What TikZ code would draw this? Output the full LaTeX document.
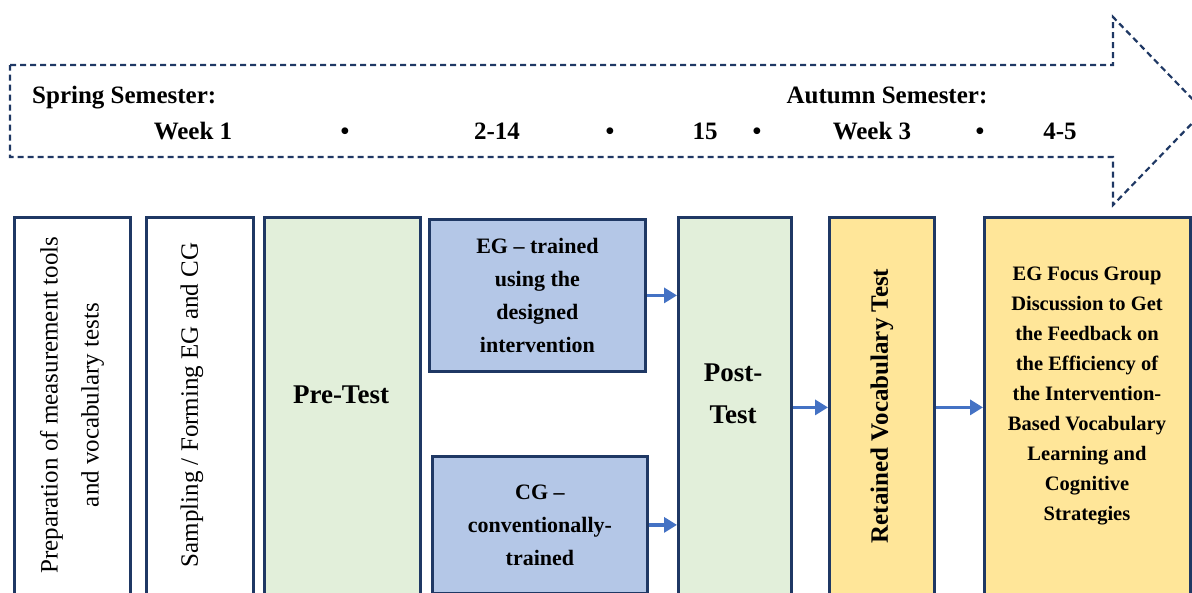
\documentclass[tikz,border=0pt]{standalone}
\usepackage{fontspec}
\setmainfont{Liberation Serif}
\usetikzlibrary{arrows.meta}
\definecolor{navy}{HTML}{1F3864}
\definecolor{gfill}{HTML}{E2EFDA}
\definecolor{bfill}{HTML}{B4C7E7}
\definecolor{yfill}{HTML}{FFE699}
\definecolor{arrowblue}{HTML}{4472C4}
\begin{document}
\begin{tikzpicture}[x=1pt,y=-1pt,
  box/.style={draw=navy, line width=2.8pt, anchor=north west, inner sep=0pt},
  flow/.style={draw=arrowblue, line width=3.4pt, -{Triangle[length=13pt,width=15pt]}},
  tl/.style={font=\fontsize{25}{28}\selectfont\bfseries, anchor=base, inner sep=0pt},
  rottext/.style={rotate=90, align=center, inner sep=0pt, font=\fontsize{25}{41}\selectfont},
  bigtext/.style={align=center, inner sep=0pt, font=\fontsize{27}{42}\selectfont\bfseries},
  midtext/.style={align=center, inner sep=0pt, font=\fontsize{22}{33}\selectfont\bfseries},
  smalltext/.style={align=center, inner sep=0pt, font=\fontsize{20.5}{30}\selectfont\bfseries},
  timeline/.style={draw=navy, line width=2.2pt, dash pattern=on 6pt off 4pt}]
\useasboundingbox (0,0) rectangle (1192,592);
\clip (0,0) rectangle (1192,592);
% timeline arrow
\draw[timeline] (10,65) -- (1113,65) -- (1113,17) -- (1204,111) -- (1113,205) -- (1113,157) -- (10,157) -- cycle;
\node[tl, anchor=base west] (spring) at (32,103) {Spring Semester:};
\node[tl] (autumn) at (887,103) {Autumn Semester:};
\node[tl] (w1) at (193,139) {Week 1};
\node[tl] (b1) at (345,139) {•};
\node[tl] (w2) at (497,139) {2-14};
\node[tl] (b2) at (610,139) {•};
\node[tl] (w15) at (705,139) {15};
\node[tl] (b3) at (757,139) {•};
\node[tl] (w3) at (872,139) {Week 3};
\node[tl] (b4) at (980,139) {•};
\node[tl] (w45) at (1060,139) {4-5};
% boxes
\node[box, fill=white, minimum width=116pt, minimum height=380pt] (prep) at (13,216) {};
\node[box, fill=white, minimum width=107pt, minimum height=380pt] (samp) at (145,216) {};
\node[box, fill=gfill, minimum width=156pt, minimum height=380pt] (pre) at (263,216) {};
\node[box, fill=bfill, minimum width=216pt, minimum height=152pt] (eg) at (428,218) {};
\node[box, fill=bfill, minimum width=215pt, minimum height=137pt] (cg) at (431,455) {};
\node[box, fill=gfill, minimum width=113pt, minimum height=380pt] (post) at (677,216) {};
\node[box, fill=yfill, minimum width=105pt, minimum height=380pt] (ret) at (828,216) {};
\node[box, fill=yfill, minimum width=206pt, minimum height=380pt] (focus) at (983,216) {};
% labels
\node[rottext] (prepT) at (72,405) {Preparation of measurement tools\\and vocabulary tests};
\node[rottext] (sampT) at (192,405) {Sampling / Forming EG and CG};
\node[bigtext] (preT) at (341,395) {Pre-Test};
\node[midtext] (egT) at (eg.center) {EG – trained\\using the\\designed\\intervention};
\node[midtext] (cgT) at (cg.center) {CG –\\conventionally-\\trained};
\node[bigtext] (postT) at (733,394) {Post-\\Test};
\node[rottext, font=\fontsize{25}{41}\selectfont\bfseries] (retT) at (882,406) {Retained Vocabulary Test};
\node[smalltext] (focusT) at (1087,396) {EG Focus Group\\Discussion to Get\\the Feedback on\\the Efficiency of\\the Intervention-\\Based Vocabulary\\Learning and\\Cognitive\\Strategies};
% connectors
\draw[flow] (eg.east) -- (eg.east -| post.west);
\draw[flow] (cg.east) -- (cg.east -| post.west);
\draw[flow] (post.east) -- (post.east -| ret.west);
\draw[flow] (ret.east) -- (ret.east -| focus.west);
\end{tikzpicture}
\end{document}
